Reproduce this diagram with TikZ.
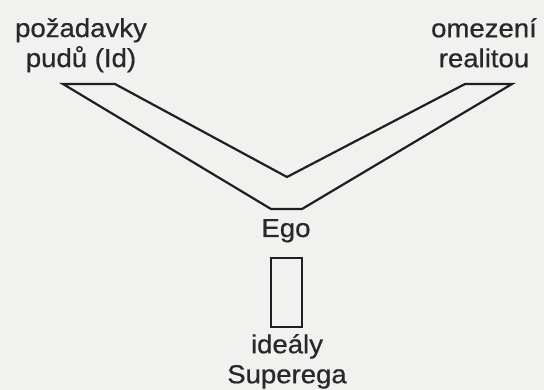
\documentclass[tikz,border=0pt]{standalone}
\usepackage{fontspec}
\setmainfont{Liberation Sans}[FakeStretch=1.06, FakeBold=0.6]
\usepackage{tikz}
\usetikzlibrary{positioning}
\definecolor{paper}{RGB}{241, 241, 239}
\definecolor{inkgray}{RGB}{40, 40, 40}

\begin{document}
\begin{tikzpicture}[x=1pt, y=-1pt, line width=2.2pt, line join=miter,
  lbl/.style={font=\fontsize{26}{30}\selectfont, text=inkgray, align=center, inner sep=0pt}]
  \fill[paper] (0,0) rectangle (544,390);
  \useasboundingbox (0,0) rectangle (544,390);

  % Id and reality labels
  \node[lbl, anchor=north] (id) at (81,17) {požadavky\\pudů (Id)};
  \node[lbl, anchor=north] (reality) at (484,17) {omezení\\realitou};

  % the V of the Ego
  \draw[black!88] (63,84) -- (271,209) -- (302,209) -- (512,84)
                  -- (465,84) -- (287,177) -- (115,84) -- cycle;

  \node[lbl, anchor=base] (ego) at (286,237) {Ego};

  % Superego bar
  \node[draw=black!88, minimum width=31pt, minimum height=69pt, inner sep=0pt]
    (superego) at (286.5,292.5) {};
  \node[lbl, anchor=north] (ideals) at (287,333) {ideály\\Superega};
\end{tikzpicture}
\end{document}
